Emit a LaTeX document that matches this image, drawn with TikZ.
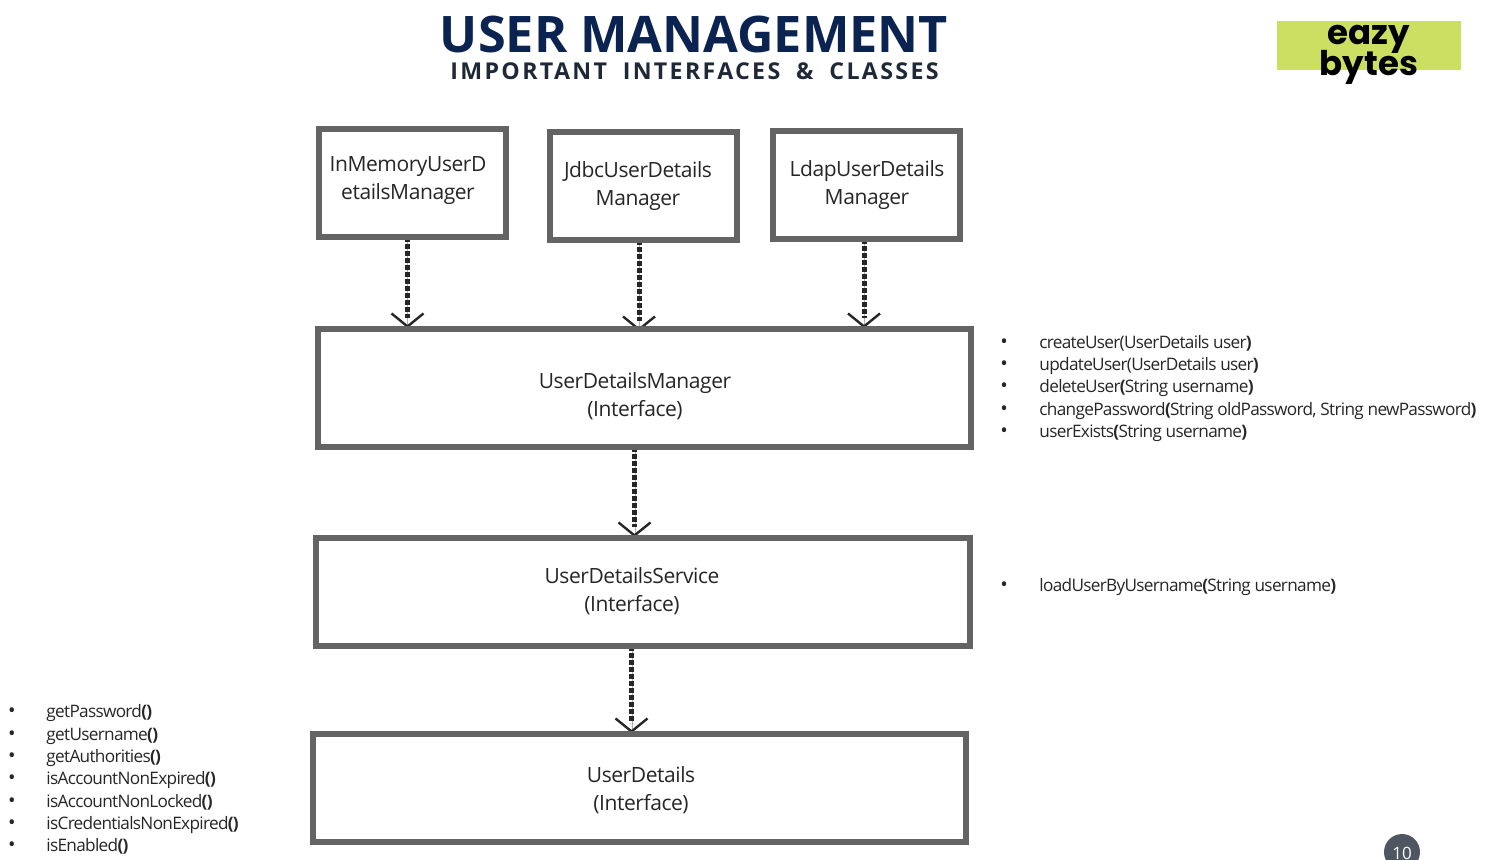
\documentclass[tikz,border=0pt]{standalone}
\usepackage{fontspec}
\usetikzlibrary{arrows.meta, positioning, backgrounds}
\setmainfont{Open Sans}
\newfontfamily\subfont[LetterSpace=10,WordSpace=1.9]{Open Sans}
\newfontfamily\boxfont[LetterSpace=-2]{Open Sans}
\newfontfamily\methodfont[LetterSpace=-4]{Open Sans}
\newfontfamily\logofont{Poppins}
\definecolor{boxgray}{RGB}{100,100,100}
\definecolor{flowdark}{RGB}{38,38,38}
\definecolor{titleblue}{RGB}{10,35,80}
\definecolor{subdark}{RGB}{30,40,55}
\definecolor{logogreen}{RGB}{205,223,98}
\definecolor{badgegray}{RGB}{78,87,97}
\begin{document}
\begin{tikzpicture}[x=0.5pt, y=-0.5pt,
        impl/.style={draw=boxgray, line width=3pt, minimum width=93.5pt, minimum height=54pt, outer sep=0pt, inner sep=0pt},
        iface/.style={draw=boxgray, line width=3pt, minimum width=326.5pt, minimum height=54pt, outer sep=0pt, inner sep=0pt},
        lbl/.style={align=center, font=\fontsize{10.5}{14}\boxfont, text=black!85, inner sep=0pt},
        flow/.style={draw=flowdark, line width=2.5pt, dash pattern=on 2.7pt off 0.8pt, shorten >=5.5pt,
            postaction={draw=flowdark, solid, line width=0.01pt, shorten >=0.5pt,
                -{Straight Barb[length=6.5pt, width=16pt, line width=1.2pt, color=flowdark]}}},
        method/.style={anchor=base west, font=\fontsize{8.6}{10}\methodfont, text=black!85, inner sep=0pt},
        dot/.style={anchor=base, font=\fontsize{10}{10}\selectfont, text=black!85, inner sep=0pt}]
        \useasboundingbox (0,0) rectangle (1487,859);

        % Title
        \node[font=\fontsize{25.2}{30}\selectfont\bfseries, text=titleblue, inner sep=0pt] (title) at (694,34) {USER MANAGEMENT};
        \node[font=\fontsize{11.6}{14}\subfont\bfseries, text=subdark, inner sep=0pt] (subtitle) at (694.5,71) {IMPORTANT INTERFACES \& CLASSES};

        % Logo
        \node[fill=logogreen, minimum width=92pt, minimum height=24.5pt, inner sep=0pt] (logo) at (1369,45.5) {};
        \node[font=\fontsize{17}{15}\logofont\bfseries, align=center, inner sep=0pt] (logotext) at (1369,54.5) {eazy\\[-2.5pt]bytes};

        % Implementations
        \node[impl] (inmem) at (412.5,183) {};
        \node[impl] (jdbc) at (643.5,186) {};
        \node[impl] (ldap) at (866.5,184.5) {};
        \node[lbl] (inmemtext) at (408,180.5) {InMemoryUserD\\etailsManager};
        \node[lbl] (jdbctext) at (638,186) {JdbcUserDetails\\Manager};
        \node[lbl] (ldaptext) at (867,185) {LdapUserDetails\\Manager};

        % Interfaces
        \node[iface, minimum height=59pt] (manager) at (644.5,388) {};
        \node[iface, minimum width=327pt] (service) at (643,592) {};
        \node[iface] (details) at (639.5,788) {};
        \node[lbl] (managertext) at (635,396) {UserDetailsManager\\(Interface)};
        \node[lbl] (servicetext) at (632,591) {UserDetailsService\\(Interface)};
        \node[lbl] (detailstext) at (641,790) {UserDetails\\(Interface)};

        % Arrows
        \begin{scope}[on background layer]
            \draw[flow] ([xshift=-2.5pt]inmem.south) -- ([xshift=-2.5pt]inmem.south |- manager.north);
            \draw[flow] ([xshift=-2.25pt]jdbc.south) -- ([xshift=-2.25pt,yshift=-1.5pt]jdbc.south |- manager.north);
            \draw[flow] ([xshift=-1.25pt]ldap.south) -- ([xshift=-1.25pt]ldap.south |- manager.north);
            \draw[flow] ([xshift=-5pt]manager.south) -- ([xshift=-5pt]manager.south |- service.north);
            \draw[flow] ([xshift=-5.75pt]service.south) -- ([xshift=-5.75pt]service.south |- details.north);
        \end{scope}

        % Methods
        \foreach \y/\txt [count=\i] in {348/{createUser(UserDetails user\textbf{)}},
                370/{updateUser(UserDetails user\textbf{)}},
                392/{deleteUser\textbf{(}String username\textbf{)}},
                415/{changePassword\textbf{(}String oldPassword, String newPassword\textbf{)}},
                437/{userExists\textbf{(}String username\textbf{)}},
                591/{loadUserByUsername\textbf{(}String username\textbf{)}}} {
            \node[dot] (mdot\i) at (1004,\y) {•};
            \node[method] (mtext\i) at (1039,\y) {\txt};
        }
        \foreach \y/\txt [count=\i] in {717/getPassword, 740/getUsername, 762/getAuthorities, 784/isAccountNonExpired,
                807/isAccountNonLocked, 829/isCredentialsNonExpired, 851/isEnabled} {
            \node[dot] (gdot\i) at (12,\y) {•};
            \node[method] (gtext\i) at (46,\y) {\txt\textbf{()}};
        }

        % Page number
        \begin{scope}
            \clip (1300,800) rectangle (1487,859);
            \node[circle, fill=badgegray, minimum size=18pt, inner sep=0pt] (badge) at (1402,852) {};
            \node[font=\fontsize{8.5}{10}\selectfont, text=white, inner sep=0pt] (pagenum) at (1402,853) {10};
        \end{scope}
    \end{tikzpicture}
\end{document}
